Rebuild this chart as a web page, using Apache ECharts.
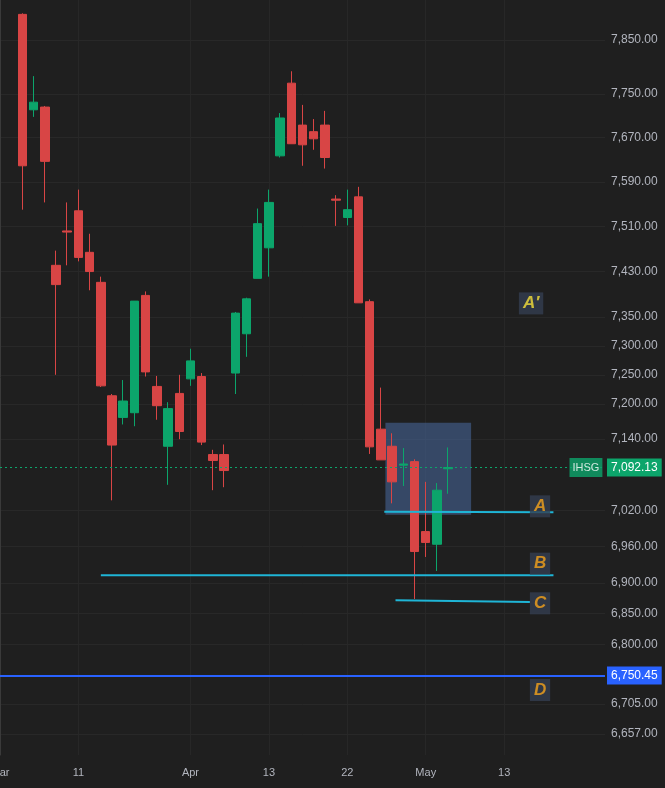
<!DOCTYPE html>
<html>
<head>
<meta charset="UTF-8">
<script src="https://cdn.jsdelivr.net/npm/echarts@6/dist/echarts.min.js"></script>
<style>html,body{margin:0;background:#1f1f1f}#main{width:665px;height:788px}</style>
</head>
<body>
<div id="main"></div>
<script>
// daily candles [open, close, low, high]
var candles = [
  [7898,7619,7540,7900],[7721,7735,7708,7783],[7726,7627,7553,7728],[7441,7407,7250,7467],
  [7502,7500,7441,7553],[7538,7455,7448,7576],[7464,7430,7397,7497],[7411,7231,7229,7421],
  [7214,7130,7037,7217],[7177,7205,7165,7241],[7185,7378,7162,7378],[7388,7255,7247,7395],
  [7230,7197,7173,7248],[7128,7192,7063,7203],[7218,7153,7140,7250],[7243,7274,7231,7295],
  [7247,7135,7130,7253],[7114,7104,7054,7122],[7114,7087,7059,7131],[7253,7357,7217,7359],
  [7321,7382,7281,7384],[7418,7515,7418,7542],[7472,7553,7421,7576],[7637,7706,7634,7715],
  [7770,7659,7659,7792],[7693,7657,7619,7730],[7681,7668,7648,7704],[7693,7634,7614,7719],
  [7559,7557,7511,7566],[7526,7540,7512,7576],[7563,7375,7375,7581],[7377,7127,7115,7381],
  [7157,7105,7105,7228],[7128,7068,7032,7150],[7096,7098,7061,7125],[7102,6952,6874,7106],
  [6985,6967,6943,7068],[6964,7054,6920,7066],[7090,7092.13,7048,7126]
];
var slotCount = 55;
var firstSlot = 2;
var dateLabels = {0:'Mar', 7:'11', 17:'Apr', 24:'13', 31:'22', 38:'May', 45:'13'};
var priceTicks = [7850,7750,7670,7590,7510,7430,7350,7300,7250,7200,7140,7020,6960,6900,6850,6800,6750,6705,6657];
var lastPrice = 7092.13;
var levelD = 6750.45;
// annotation lines: [x0, y0, x1, y1] in slot units / price
var lineA = [34.3, 7018, 49.4, 7017];
var lineB = [9.0, 6913, 49.4, 6913];
var lineC = [35.3, 6872, 47.3, 6869];
var zoneBox = [34.4, 7168, 42.05, 7013];
var tags = [['A\u2032', 47.4, 7374, '#f5e03a'], ['A', 48.2, 7027, '#f5a31a'], ['B', 48.2, 6932, '#f5a31a'],
            ['C', 48.2, 6867, '#f5a31a'], ['D', 48.2, 6727, '#f5a31a']];

var slots = [], data = [];
for (var i = 0; i < slotCount; i++) {
  slots.push('s' + i);
  var c = candles[i - firstSlot];
  data.push(c ? c : '-');
}
function fmt(v) {
  return v.toLocaleString('en-US', {minimumFractionDigits: 2, maximumFractionDigits: 2});
}
function seg(l, color) {
  return {type: 'line', xAxisIndex: 1, data: [[l[0], l[1]], [l[2], l[3]]], symbol: 'none',
    lineStyle: {color: color, width: 2}, silent: true, z: 4};
}

var chart = echarts.init(document.getElementById('main'));
chart.setOption({
  backgroundColor: '#1f1f1f',
  animation: false,
  grid: {left: 0, right: 60, top: 0, bottom: 33, outerBoundsMode: 'none', containLabel: false},
  xAxis: [{
    type: 'category', data: slots, boundaryGap: false,
    axisLine: {show: false}, axisTick: {show: false},
    axisLabel: {interval: 0, color: '#b2b5be', fontSize: 11, margin: 12,
      formatter: function (v, idx) { return dateLabels[idx] || ''; }},
    splitLine: {show: true, interval: function (idx) { return dateLabels[idx] !== undefined && idx > 0; },
      lineStyle: {color: '#272727'}}
  }, {
    type: 'value', min: 0, max: slotCount - 1, show: false
  }],
  yAxis: {
    type: 'log', min: 6624, max: 7925, position: 'right',
    axisLine: {show: true, lineStyle: {color: '#3a3a3a'}},
    axisTick: {show: false}, axisLabel: {show: false}, splitLine: {show: false}
  },
  series: [{
    // price grid + right axis labels
    type: 'line', xAxisIndex: 1, data: [], silent: true, z: 0,
    markLine: {
      symbol: 'none', silent: true, z: 0,
      data: priceTicks.map(function (p) {
        return {yAxis: p, lineStyle: {color: '#282828', width: 1, type: 'solid'},
          label: {show: true, position: 'end', distance: 6, formatter: fmt(p), color: '#b2b5be', fontSize: 12}};
      })
    },
    markArea: {itemStyle: {color: 'rgba(70,100,150,0.6)'},
      data: [[{coord: [zoneBox[0], zoneBox[1]]}, {coord: [zoneBox[2], zoneBox[3]]}]]}
  }, {
    type: 'candlestick', data: data, barWidth: 9, z: 3,
    itemStyle: {color: '#0ca56b', color0: '#d84545', borderColor: '#0ca56b', borderColor0: '#d84545', borderWidth: 1},
    markLine: {
      symbol: 'none', silent: true,
      data: [
        {yAxis: lastPrice, lineStyle: {color: '#0ca56b', width: 1, type: [2, 3]},
          label: {show: true, position: 'end', distance: 2, formatter: fmt(lastPrice), color: '#fff', fontSize: 12,
            backgroundColor: '#0ca56b', padding: [3, 4]}},
        {yAxis: levelD, lineStyle: {color: '#2962ff', width: 2, type: 'solid'},
          label: {show: true, position: 'end', distance: 2, formatter: fmt(levelD), color: '#fff', fontSize: 12,
            backgroundColor: '#2962ff', padding: [3, 4]}}
      ]
    }
  },
  seg(lineA, '#1fb5d6'), seg(lineB, '#1fb5d6'), seg(lineC, '#1fb5d6'),
  {
    type: 'scatter', xAxisIndex: 1, symbolSize: 0, silent: true, z: 6,
    data: tags.map(function (t) {
      return {value: [t[1], t[2]], label: {show: true, position: 'inside', formatter: t[0], color: t[3],
        fontSize: 17, fontWeight: 'bold', fontStyle: 'italic', backgroundColor: '#333d50', padding: [3, 4, 2, 4]}};
    }).concat([{value: [52.3, lastPrice], label: {show: true, position: 'inside', formatter: 'IHSG',
      color: '#fff', fontSize: 11, backgroundColor: '#0ca56b', padding: [4, 3]}}])
  }]
});
</script>
</body>
</html>
